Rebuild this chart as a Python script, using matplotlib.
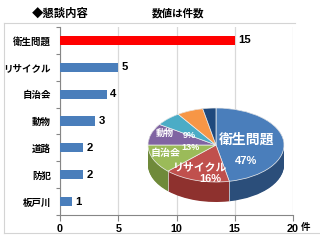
import numpy as np
import matplotlib
matplotlib.use("Agg")
import matplotlib.pyplot as plt

# ---- data ----
categories = ['衛生問題', 'リサイクル', '自治会', '動物', '道路', '防犯', '板戸川']
counts = [15, 5, 4, 3, 2, 2, 1]
x_ticks = [0, 5, 10, 15, 20]
pie_named = ['衛生問題', 'リサイクル', '自治会', '動物']

W, H = 320, 244
CJK = ['Noto Sans CJK JP', 'DejaVu Sans']
NUM = ['Liberation Sans', 'DejaVu Sans']

def fx(x):
    return x / W

def fy(y):
    return 1 - y / H

fig = plt.figure(figsize=(W / 100, H / 100), dpi=100)
fig.patch.set_facecolor('white')

# outer frame lines
frame_col = '#D4D4D4'
fig.add_artist(plt.Line2D([fx(4), fx(295)], [fy(23), fy(23)], color=frame_col, lw=0.8))
fig.add_artist(plt.Line2D([fx(4), fx(4)], [fy(23), fy(233)], color=frame_col, lw=0.8))
fig.add_artist(plt.Line2D([fx(4), fx(320)], [fy(233), fy(233)], color=frame_col, lw=0.8))

# titles
fig.text(fx(60), fy(13), '◆懇談内容', family=CJK, weight='bold', fontsize=8.2, va='center', ha='center')
fig.text(fx(178.5), fy(13), '数値は件数', family=CJK, weight='bold', fontsize=7.6, va='center', ha='center')

# ---- bar chart ----
L, R, T, B = 60, 293, 27, 215
ax = fig.add_axes([fx(L), fy(B), fx(R) - fx(L), fy(T) - fy(B)])
ypos = np.arange(len(categories))
bar_colors = ['#FF0000'] + ['#4A7EBB'] * (len(categories) - 1)
ax.barh(ypos, counts, height=0.34, color=bar_colors, zorder=3)
ax.set_xlim(0, 20)
ax.set_ylim(len(categories) - 0.5, -0.5)
ax.set_xticks(x_ticks)
ax.set_xticklabels([str(t) for t in x_ticks], family=NUM, weight='bold', fontsize=7.8)
ax.set_yticks(ypos)
ax.set_yticklabels(categories, family=CJK, weight='bold', fontsize=6.8)
ax.set_yticks(np.arange(len(categories) + 1) - 0.5, minor=True)
ax.tick_params(axis='y', which='major', length=0, pad=6.5)
ax.tick_params(axis='y', which='minor', length=3, color='#868686', width=0.8)
ax.tick_params(axis='x', length=4, color='#868686', width=0.8, pad=2.5)
ax.grid(axis='x', color='#D9D9D9', lw=0.9, zorder=0)
for s in ['top', 'right']:
    ax.spines[s].set_visible(False)
for s in ['left', 'bottom']:
    ax.spines[s].set_color('#868686')
    ax.spines[s].set_linewidth(0.8)
for i, v in enumerate(counts):
    ax.text(v + 0.3, i, str(v), va='center', ha='left', family=NUM, weight='bold', fontsize=8.2)

fig.text(fx(306), fy(227), '件', family=CJK, weight='bold', fontsize=6.8, va='center', ha='center')

# ---- 3D pie ----
cx, cy, a, b, depth = 216, 145, 68, 37, 20
d_units = depth / b
pax = fig.add_axes([fx(cx - a), fy(cy + b + depth), 2 * a / W, (2 * b + depth) / H])
top_colors = ['#4A7EBB', '#C0504D', '#9BBB59', '#8064A2', '#4BACC6', '#F79646', '#1F497D']
side_colors = ['#2B4E7A', '#8E312E', '#6F8A3A', '#5C4778', '#2F7F94', '#B86A2A', '#14304F']
for off in np.linspace(d_units, 0, 30):
    pax.pie(counts, radius=1, center=(0, -off), startangle=90, counterclock=False,
            colors=side_colors, wedgeprops=dict(linewidth=0))
pax.pie(counts, radius=1, center=(0, 0), startangle=90, counterclock=False,
        colors=top_colors, wedgeprops=dict(linewidth=0.5, edgecolor='#F0F0F0'))
# side seams
cum = np.cumsum(counts) / np.sum(counts) * 360.0
for ang in cum[:-1]:
    if 90 < ang < 270:
        px_, py_ = np.sin(np.radians(ang)), np.cos(np.radians(ang))
        pax.plot([px_, px_], [py_, py_ - d_units], color='#E8E8E8', lw=0.5)
pax.set_aspect('auto')
pax.set_xlim(-1, 1)
pax.set_ylim(-1 - d_units, 1)
pax.axis('off')

# pie labels
total = sum(counts)
pct = [int(c / total * 100 + 0.5) for c in counts]
fig.text(fx(247), fy(140), pie_named[0], family=CJK, weight='bold', fontsize=10, color='white', ha='center', va='center')
fig.text(fx(246), fy(161), f'{pct[0]}%', family=NUM, weight='bold', fontsize=8, color='white', ha='center', va='center')
fig.text(fx(200), fy(167), pie_named[1], family=CJK, weight='bold', fontsize=7.8, color='white', ha='center', va='center')
fig.text(fx(210), fy(179), f'{pct[1]}%', family=NUM, weight='bold', fontsize=8, color='white', ha='center', va='center')
fig.text(fx(166), fy(153), pie_named[2], family=CJK, weight='bold', fontsize=7.2, color='white', ha='center', va='center')
fig.text(fx(191), fy(147), f'{pct[2]}%', family=NUM, weight='bold', fontsize=6.5, color='white', ha='center', va='center')
fig.text(fx(165), fy(133), pie_named[3], family=CJK, weight='bold', fontsize=6.5, color='white', ha='center', va='center')
fig.text(fx(189), fy(135), f'{pct[3]}%', family=NUM, weight='bold', fontsize=6.5, color='white', ha='center', va='center')

fig.savefig('out.png', dpi=100)
